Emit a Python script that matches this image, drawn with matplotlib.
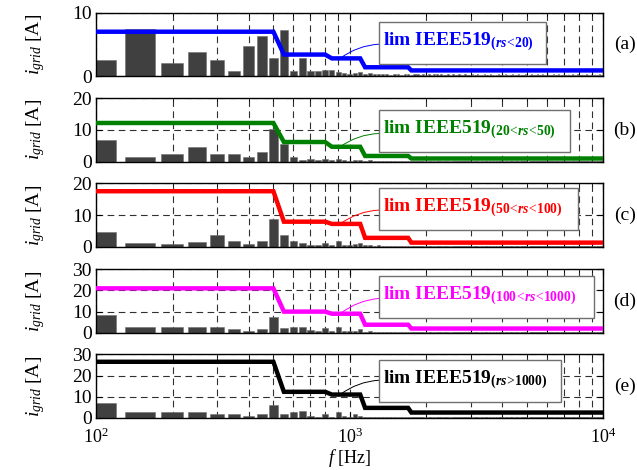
import numpy as np
import matplotlib.pyplot as plt
from matplotlib.patches import Rectangle

plt.rcParams['font.family'] = 'Liberation Serif'
plt.rcParams['mathtext.fontset'] = 'custom'
plt.rcParams['mathtext.rm'] = 'Liberation Serif'
plt.rcParams['mathtext.it'] = 'Liberation Serif:italic'
plt.rcParams['mathtext.bf'] = 'Liberation Serif:bold'
plt.rcParams['mathtext.bfit'] = 'Liberation Serif:italic:bold'

# harmonic orders of 50 Hz shown on the plot
harm = np.arange(2, 201)
freq = 50 * harm

# measured harmonic currents [A], orders 2..40
bars_a = [2.6, 7.5, 2.0, 3.85, 2.6, 0.8, 4.75, 6.3, 2.9, 7.3,
          0.75, 2.9, 0.75, 0.75, 0.95, 1.0, 0.6, 0.5, 0.3, 0.5,
          0.7, 0.3, 0.5, 0.3, 0.3, 0.4, 0.3, 0.2, 0.3, 0.3,
          0.2, 0.3, 0.3, 0.2, 0.3, 0.3, 0.2, 0.3, 0.2]
bars_b = [6.85, 1.4, 2.5, 4.5, 2.5, 2.5, 1.4, 3.0, 10.3, 5.5,
          1.5, 0.5, 1.0, 0.5, 1.0, 0.5, 1.0, 0.4, 0.3, 0.5,
          0.4, 0.3, 0.4, 0.3, 0.3, 0.3, 0.3, 0.2, 0.3, 0.3,
          0.2, 0.3, 0.3, 0.2, 0.3, 0.3, 0.2, 0.3, 0.2]
bars_c = [4.6, 1.2, 0.9, 1.5, 3.7, 1.8, 0.9, 1.8, 8.6, 3.7,
          1.8, 1.1, 0.6, 0.6, 1.3, 0.6, 1.8, 0.6, 0.5, 0.8,
          1.2, 0.4, 0.5, 0.3, 0.4, 0.3, 0.3, 0.3, 0.3, 0.3,
          0.2, 0.3, 0.3, 0.2, 0.3, 0.3, 0.2, 0.3, 0.2]
bars_d = [8.3, 2.8, 2.8, 2.8, 2.8, 1.7, 0.8, 1.7, 7.5, 2.1,
          2.8, 2.8, 1.3, 0.8, 2.1, 1.0, 2.8, 1.0, 0.6, 1.0,
          1.8, 0.5, 0.6, 0.4, 0.5, 0.4, 0.4, 0.3, 0.4, 0.3,
          0.3, 0.4, 0.3, 0.3, 0.3, 0.4, 0.3, 0.3, 0.3]
bars_e = [7.1, 2.8, 2.8, 2.8, 1.7, 1.7, 0.8, 1.7, 6.3, 1.7,
          2.8, 3.4, 0.8, 0.5, 1.7, 0.5, 2.8, 0.8, 0.5, 1.7,
          0.8, 0.5, 0.6, 0.4, 0.5, 0.4, 0.4, 0.3, 0.4, 0.3,
          0.3, 0.4, 0.3, 0.3, 0.3, 0.4, 0.3, 0.3, 0.3]
# orders 41..200, small residual content
tail = [0.3, 0.2, 0.3, 0.3, 0.2, 0.3, 0.2, 0.2, 0.3, 0.2,
        0.3, 0.2, 0.2, 0.3, 0.2, 0.2, 0.3, 0.2, 0.2, 0.2,
        0.3, 0.2, 0.2, 0.3, 0.2, 0.2, 0.2, 0.3, 0.2, 0.2,
        0.2, 0.3, 0.2, 0.2, 0.2, 0.2, 0.3, 0.2, 0.2, 0.2,
        0.2, 0.3, 0.2, 0.2, 0.2, 0.2, 0.2, 0.3, 0.2, 0.2,
        0.2, 0.2, 0.3, 0.2, 0.2, 0.2, 0.2, 0.2, 0.3, 0.2,
        0.2, 0.2, 0.2, 0.3, 0.2, 0.2, 0.2, 0.2, 0.2, 0.3,
        0.2, 0.2, 0.2, 0.2, 0.3, 0.2, 0.2, 0.2, 0.2, 0.2,
        0.3, 0.2, 0.2, 0.2, 0.2, 0.2, 0.3, 0.2, 0.2, 0.2,
        0.2, 0.2, 0.3, 0.2, 0.2, 0.2, 0.2, 0.2, 0.3, 0.2,
        0.2, 0.2, 0.2, 0.2, 0.3, 0.2, 0.2, 0.2, 0.2, 0.2,
        0.3, 0.2, 0.2, 0.2, 0.2, 0.2, 0.2, 0.3, 0.2, 0.2,
        0.2, 0.2, 0.2, 0.2, 0.3, 0.2, 0.2, 0.2, 0.2, 0.2,
        0.2, 0.3, 0.2, 0.2, 0.2, 0.2, 0.2, 0.2, 0.3, 0.2,
        0.2, 0.2, 0.2, 0.2, 0.2, 0.3, 0.2, 0.2, 0.2, 0.2,
        0.2, 0.2, 0.3, 0.2, 0.2, 0.2, 0.2, 0.2, 0.2, 0.3]

# IEEE519 limit bands (first harmonic order of each band) and limits [A]
band_start = [2, 11, 17, 23, 35]
lim_a = [7.0, 3.4, 2.8, 1.4, 0.9]
lim_b = [12.2, 6.2, 4.7, 1.8, 1.0]
lim_c = [17.5, 7.9, 7.2, 2.8, 1.3]
lim_d = [21.0, 10.0, 9.0, 3.8, 2.0]
lim_e = [26.5, 12.3, 11.0, 4.7, 2.5]

names = ['(a)', '(b)', '(c)', '(d)', '(e)']
ranges = [r'\mathbf{(}\mathbfit{rs}\!<\!\mathbf{20)}',
          r'\mathbf{(20}\!<\!\mathbfit{rs}\!<\!\mathbf{50)}',
          r'\mathbf{(50}\!<\!\mathbfit{rs}\!<\!\mathbf{100)}',
          r'\mathbf{(100}\!<\!\mathbfit{rs}\!<\!\mathbf{1000)}',
          r'\mathbf{(}\mathbfit{rs}\!>\!\mathbf{1000)}']
colors = ['#0000ff', '#008000', '#ff0000', '#ff00ff', '#000000']
ymax = [10, 20, 20, 30, 30]
all_bars = [bars_a, bars_b, bars_c, bars_d, bars_e]
all_lims = [lim_a, lim_b, lim_c, lim_d, lim_e]

fig = plt.figure(figsize=(6.37, 4.70), dpi=100)
bottoms = [0.838, 0.656, 0.475, 0.292, 0.111]
box_w = [0.262, 0.300, 0.312, 0.338, 0.286]
box_y = [0.864, 0.677, 0.511, 0.323, 0.145]
conn_y = [0.906, 0.716, 0.553, 0.365, 0.191]

band_idx = np.searchsorted(band_start, harm, side='right') - 1

for i in range(5):
    ax = fig.add_axes([0.151, bottoms[i], 0.796, 0.135])
    vals = np.array(all_bars[i] + tail)
    lim = np.array(all_lims[i])[band_idx]

    ax.bar(freq, vals, width=40, color='#404040', edgecolor='#707070', lw=0.4, zorder=2)
    ax.plot(freq, lim, color=colors[i], lw=3.2, zorder=3, solid_joinstyle='miter')

    ax.set_xscale('log')
    ax.set_xlim(100, 10000)
    ax.set_ylim(0, ymax[i])
    ax.set_yticks(np.arange(0, ymax[i] + 1, 10))
    ax.grid(True, which='both', axis='x', ls=(0, (6, 4)), color='#303030', lw=0.8)
    ax.grid(True, which='major', axis='y', ls=(0, (6, 4)), color='#303030', lw=0.8)
    ax.set_axisbelow(True)
    ax.tick_params(which='both', direction='in', top=True, right=True, labelsize=14, pad=3)
    ax.tick_params(axis='x', which='major', pad=7, labelsize=13)
    ax.tick_params(which='major', length=4)
    ax.tick_params(which='minor', length=2)
    for s in ax.spines.values():
        s.set_linewidth(1.0)
    ax.xaxis.set_minor_formatter(plt.NullFormatter())
    if i < 4:
        ax.set_xticklabels([])
    else:
        ax.set_xlabel(r'$f$ [Hz]', fontsize=13, labelpad=0)

    ax.set_ylabel(r'$i_{grid}$ [A]', fontsize=14)
    ax.yaxis.set_label_coords(-0.097, 0.5)

    # legend-like box with connector
    fig.patches.append(Rectangle((0.595, box_y[i]), box_w[i], 0.090, transform=fig.transFigure,
                                 facecolor='white', edgecolor='#707070', lw=1.0, zorder=5))
    fig.text(0.601, box_y[i] + 0.040, r'$\mathbf{lim\ IEEE519}_{' + ranges[i] + '}$',
             color=colors[i], fontsize=14, va='baseline', ha='left', zorder=6)
    ax.annotate('', xy=(917, all_lims[i][2]), xycoords='data',
                xytext=(0.595, conn_y[i]), textcoords='figure fraction',
                arrowprops=dict(arrowstyle='-', color=colors[i], lw=0.7,
                                connectionstyle='arc3,rad=0.15', shrinkA=0, shrinkB=0),
                zorder=4, annotation_clip=False)

    fig.text(0.981, bottoms[i] + 0.0675, names[i], fontsize=14, ha='center', va='center')

fig.savefig('out.png', dpi=100)
